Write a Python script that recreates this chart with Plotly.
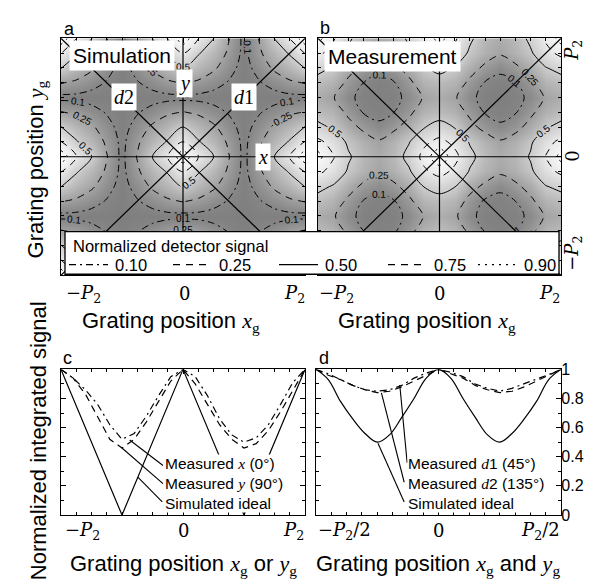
import plotly.graph_objects as go

W, H = 592, 583


def xp(p):
    return p / W


def yp(p):
    return 1 - p / H


# ---------------- data (positions in units of P2) ----------------
grid_pos = [-1.0, -0.875, -0.75, -0.625, -0.5, -0.375, -0.25, -0.125, 0.0,
            0.125, 0.25, 0.375, 0.5, 0.625, 0.75, 0.875, 1.0]

sim_signal = [
    [1.00, 0.76, 0.51, 0.26, 0.06, 0.26, 0.51, 0.76, 1.00, 0.76, 0.51, 0.26, 0.06, 0.26, 0.51, 0.76, 1.00],
    [0.76, 0.52, 0.38, 0.22, 0.06, 0.22, 0.38, 0.52, 0.76, 0.52, 0.38, 0.22, 0.06, 0.22, 0.38, 0.52, 0.76],
    [0.51, 0.38, 0.28, 0.15, 0.05, 0.15, 0.28, 0.38, 0.51, 0.38, 0.28, 0.15, 0.05, 0.15, 0.28, 0.38, 0.51],
    [0.26, 0.22, 0.15, 0.09, 0.05, 0.09, 0.15, 0.22, 0.26, 0.22, 0.15, 0.09, 0.05, 0.09, 0.15, 0.22, 0.26],
    [0.06, 0.06, 0.05, 0.05, 0.04, 0.05, 0.05, 0.06, 0.06, 0.06, 0.05, 0.05, 0.04, 0.05, 0.05, 0.06, 0.06],
    [0.26, 0.22, 0.15, 0.09, 0.05, 0.09, 0.15, 0.22, 0.26, 0.22, 0.15, 0.09, 0.05, 0.09, 0.15, 0.22, 0.26],
    [0.51, 0.38, 0.28, 0.15, 0.05, 0.15, 0.28, 0.38, 0.51, 0.38, 0.28, 0.15, 0.05, 0.15, 0.28, 0.38, 0.51],
    [0.76, 0.52, 0.38, 0.22, 0.06, 0.22, 0.38, 0.52, 0.76, 0.52, 0.38, 0.22, 0.06, 0.22, 0.38, 0.52, 0.76],
    [1.00, 0.76, 0.51, 0.26, 0.06, 0.26, 0.51, 0.76, 1.00, 0.76, 0.51, 0.26, 0.06, 0.26, 0.51, 0.76, 1.00],
    [0.76, 0.52, 0.38, 0.22, 0.06, 0.22, 0.38, 0.52, 0.76, 0.52, 0.38, 0.22, 0.06, 0.22, 0.38, 0.52, 0.76],
    [0.51, 0.38, 0.28, 0.15, 0.05, 0.15, 0.28, 0.38, 0.51, 0.38, 0.28, 0.15, 0.05, 0.15, 0.28, 0.38, 0.51],
    [0.26, 0.22, 0.15, 0.09, 0.05, 0.09, 0.15, 0.22, 0.26, 0.22, 0.15, 0.09, 0.05, 0.09, 0.15, 0.22, 0.26],
    [0.06, 0.06, 0.05, 0.05, 0.04, 0.05, 0.05, 0.06, 0.06, 0.06, 0.05, 0.05, 0.04, 0.05, 0.05, 0.06, 0.06],
    [0.26, 0.22, 0.15, 0.09, 0.05, 0.09, 0.15, 0.22, 0.26, 0.22, 0.15, 0.09, 0.05, 0.09, 0.15, 0.22, 0.26],
    [0.51, 0.38, 0.28, 0.15, 0.05, 0.15, 0.28, 0.38, 0.51, 0.38, 0.28, 0.15, 0.05, 0.15, 0.28, 0.38, 0.51],
    [0.76, 0.52, 0.38, 0.22, 0.06, 0.22, 0.38, 0.52, 0.76, 0.52, 0.38, 0.22, 0.06, 0.22, 0.38, 0.52, 0.76],
    [1.00, 0.76, 0.51, 0.26, 0.06, 0.26, 0.51, 0.76, 1.00, 0.76, 0.51, 0.26, 0.06, 0.26, 0.51, 0.76, 1.00],
]

meas_signal = [
    [0.93, 0.77, 0.53, 0.37, 0.31, 0.39, 0.55, 0.79, 0.96, 0.80, 0.55, 0.38, 0.31, 0.37, 0.53, 0.77, 0.94],
    [0.79, 0.65, 0.47, 0.34, 0.27, 0.35, 0.47, 0.67, 0.81, 0.68, 0.47, 0.35, 0.26, 0.33, 0.45, 0.65, 0.79],
    [0.56, 0.48, 0.33, 0.21, 0.13, 0.19, 0.31, 0.47, 0.57, 0.49, 0.33, 0.21, 0.14, 0.21, 0.33, 0.48, 0.55],
    [0.40, 0.35, 0.21, 0.10, 0.06, 0.08, 0.19, 0.35, 0.41, 0.36, 0.21, 0.09, 0.06, 0.09, 0.20, 0.36, 0.40],
    [0.32, 0.27, 0.14, 0.06, 0.05, 0.06, 0.13, 0.26, 0.33, 0.28, 0.13, 0.06, 0.05, 0.06, 0.13, 0.27, 0.32],
    [0.41, 0.36, 0.21, 0.09, 0.06, 0.09, 0.21, 0.37, 0.41, 0.36, 0.19, 0.08, 0.06, 0.10, 0.21, 0.36, 0.40],
    [0.57, 0.48, 0.33, 0.21, 0.14, 0.21, 0.33, 0.51, 0.59, 0.51, 0.32, 0.21, 0.13, 0.21, 0.32, 0.49, 0.56],
    [0.80, 0.67, 0.47, 0.35, 0.27, 0.35, 0.47, 0.71, 0.83, 0.70, 0.48, 0.36, 0.28, 0.34, 0.46, 0.66, 0.80],
    [0.95, 0.77, 0.53, 0.38, 0.31, 0.39, 0.57, 0.83, 1.00, 0.82, 0.56, 0.40, 0.32, 0.38, 0.52, 0.76, 0.95],
    [0.81, 0.66, 0.46, 0.34, 0.27, 0.36, 0.49, 0.70, 0.82, 0.69, 0.48, 0.36, 0.27, 0.34, 0.47, 0.67, 0.81],
    [0.56, 0.47, 0.32, 0.21, 0.13, 0.21, 0.33, 0.49, 0.58, 0.49, 0.31, 0.19, 0.12, 0.19, 0.32, 0.48, 0.57],
    [0.40, 0.36, 0.21, 0.09, 0.06, 0.10, 0.21, 0.36, 0.40, 0.35, 0.21, 0.09, 0.06, 0.09, 0.21, 0.35, 0.40],
    [0.32, 0.26, 0.13, 0.06, 0.05, 0.06, 0.14, 0.27, 0.32, 0.27, 0.13, 0.06, 0.04, 0.06, 0.13, 0.27, 0.33],
    [0.41, 0.36, 0.21, 0.10, 0.06, 0.09, 0.21, 0.36, 0.40, 0.36, 0.21, 0.09, 0.06, 0.09, 0.21, 0.37, 0.41],
    [0.57, 0.48, 0.32, 0.21, 0.13, 0.21, 0.32, 0.48, 0.57, 0.48, 0.33, 0.21, 0.13, 0.21, 0.33, 0.49, 0.57],
    [0.80, 0.66, 0.46, 0.35, 0.27, 0.34, 0.47, 0.67, 0.81, 0.67, 0.46, 0.34, 0.27, 0.35, 0.47, 0.67, 0.81],
    [0.95, 0.78, 0.54, 0.38, 0.31, 0.38, 0.54, 0.79, 0.96, 0.79, 0.54, 0.38, 0.32, 0.39, 0.55, 0.79, 0.96],
]

contour_levels = [0.10, 0.25, 0.50, 0.75, 0.90]
level_labels = ["0.10", "0.25", "0.50", "0.75", "0.90"]

scan_c = [-1.0, -0.9, -0.8, -0.7, -0.6, -0.5, -0.4, -0.3, -0.2, -0.1, 0.0,
          0.1, 0.2, 0.3, 0.4, 0.5, 0.6, 0.7, 0.8, 0.9, 1.0]
meas_x_c = [1.00, 0.94, 0.86, 0.76, 0.62, 0.52, 0.56, 0.68, 0.82, 0.95, 1.00,
            0.95, 0.82, 0.66, 0.55, 0.50, 0.53, 0.62, 0.76, 0.91, 1.00]
meas_y_c = [1.00, 0.94, 0.83, 0.68, 0.52, 0.46, 0.52, 0.64, 0.78, 0.92, 1.00,
            0.90, 0.76, 0.62, 0.52, 0.46, 0.49, 0.58, 0.71, 0.86, 1.00]
ideal_pos_c = [-1.0, -0.5, 0.0, 0.5, 1.0]
ideal_c = [1.0, 0.0, 1.0, 0.0, 1.0]

scan_d = [-0.5, -0.45, -0.4, -0.35, -0.3, -0.25, -0.2, -0.15, -0.1, -0.05, 0.0,
          0.05, 0.1, 0.15, 0.2, 0.25, 0.3, 0.35, 0.4, 0.45, 0.5]
meas_d1 = [1.00, 0.97, 0.93, 0.89, 0.86, 0.85, 0.86, 0.89, 0.94, 0.975, 1.00,
           0.98, 0.95, 0.90, 0.87, 0.85, 0.87, 0.90, 0.93, 0.965, 1.00]
meas_d2 = [1.00, 0.96, 0.93, 0.89, 0.86, 0.84, 0.85, 0.88, 0.92, 0.96, 1.00,
           0.97, 0.94, 0.89, 0.86, 0.84, 0.85, 0.88, 0.92, 0.96, 1.00]
ideal_d = [1.00, 0.93, 0.78, 0.66, 0.56, 0.50, 0.55, 0.67, 0.80, 0.94, 1.00,
           0.94, 0.80, 0.67, 0.55, 0.50, 0.56, 0.66, 0.78, 0.93, 1.00]

d_tick_vals = [0, 0.2, 0.4, 0.6, 0.8, 1.0]
d_tick_text = ["0", "0.2", "0.4", "0.6", "0.8", "1"]

# ---------------- styles ----------------
SANS = "Liberation Sans, Arial, Helvetica, sans-serif"
SERIF = "DejaVu Serif, serif"
DASHES = ["7px,4px,2px,4px", "7px,6px", "solid", "7px,6px", "2px,5px"]
GRAY = [[0.0, "rgb(122,122,122)"], [0.1, "rgb(134,134,134)"], [0.25, "rgb(160,160,160)"],
        [0.5, "rgb(204,204,204)"], [0.75, "rgb(234,234,234)"], [1.0, "rgb(255,255,255)"]]


def m(s):
    return f"<span style='font-family:Liberation Serif'><i>{s}</i></span>"


P2 = "<i>P</i><sub>2</sub>"

fig = go.Figure()

for xa, ya, z in [("x", "y", sim_signal), ("x2", "y2", meas_signal)]:
    fig.add_trace(go.Heatmap(x=grid_pos, y=grid_pos, z=z, zmin=0, zmax=1, zsmooth="best",
                             colorscale=GRAY, showscale=False, xaxis=xa, yaxis=ya,
                             hoverinfo="skip"))
    for lv, dash in zip(contour_levels, DASHES):
        fig.add_trace(go.Contour(
            x=grid_pos, y=grid_pos, z=z, autocontour=False,
            contours=dict(start=lv, end=lv, size=1, coloring="none",
                          showlabels=lv <= 0.5,
                          labelfont=dict(size=10, family=SANS, color="black"),
                          labelformat="~g"),
            line=dict(color="black", width=1, dash=dash, smoothing=0.9),
            showscale=False, showlegend=False, xaxis=xa, yaxis=ya, hoverinfo="skip"))


def curve(x, y, dash, xa, ya, shape="linear"):
    fig.add_trace(go.Scatter(x=x, y=y, mode="lines",
                             line=dict(color="black", width=1.2, dash=dash, shape=shape),
                             xaxis=xa, yaxis=ya, showlegend=False, hoverinfo="skip"))


curve(ideal_pos_c, ideal_c, "solid", "x3", "y3")
curve(scan_c, meas_x_c, "7px,4px,2px,4px", "x3", "y3")
curve(scan_c, meas_y_c, "7px,5px", "x3", "y3")
curve(scan_d, ideal_d, "solid", "x4", "y4", "spline")
curve(scan_d, meas_d1, "7px,4px,2px,4px", "x4", "y4")
curve(scan_d, meas_d2, "7px,5px", "x4", "y4")


def frame(**kw):
    base = dict(showline=True, linecolor="black", linewidth=1.2, mirror="allticks",
                ticks="inside", ticklen=5, tickcolor="black", tickwidth=1,
                showgrid=False, zeroline=False, fixedrange=True, showticklabels=False)
    base.update(kw)
    return base


def minor(d):
    return dict(ticks="inside", ticklen=3, dtick=d, tick0=0, tickcolor="black", tickwidth=1)


fig.update_layout(
    width=W, height=H, autosize=False,
    margin=dict(l=0, r=0, t=0, b=0),
    paper_bgcolor="white", plot_bgcolor="white",
    showlegend=False,
    xaxis=frame(domain=[xp(53), xp(297)], range=[-1, 1], tickvals=[-1, 0, 1],
                minor=minor(0.125), anchor="y"),
    yaxis=frame(domain=[yp(267), yp(23)], range=[-1, 1], tickvals=[-1, 0, 1],
                minor=minor(0.125), anchor="x"),
    xaxis2=frame(domain=[xp(310), xp(553)], range=[-1, 1], tickvals=[-1, 0, 1],
                 minor=minor(0.125), anchor="y2"),
    yaxis2=frame(domain=[yp(267), yp(23)], range=[-1, 1], tickvals=[-1, 0, 1],
                 minor=minor(0.125), anchor="x2", side="right"),
    xaxis3=frame(domain=[xp(53), xp(297)], range=[-1, 1], tickvals=[-1, 0, 1],
                 minor=minor(0.125), anchor="y3"),
    yaxis3=frame(domain=[yp(514), yp(364)], range=[0, 1], dtick=0.2, tick0=0,
                 minor=minor(0.1), anchor="x3"),
    xaxis4=frame(domain=[xp(308), xp(553)], range=[-0.5, 0.5], tickvals=[-0.5, 0, 0.5],
                 minor=minor(0.0625), anchor="y4"),
    yaxis4=frame(domain=[yp(514), yp(364)], range=[0, 1], tickvals=d_tick_vals,
                 ticktext=d_tick_text, showticklabels=True, ticklabelstandoff=-4,
                 tickfont=dict(size=16, family=SANS, color="black"),
                 minor=minor(0.1), anchor="x4", side="right"),
)

# axis / diagonal guide lines in maps a and b
for xr, yr in [("x", "y"), ("x2", "y2")]:
    for (x0, y0, x1, y1) in [(-1, 0, 1, 0), (0, -1, 0, 1), (-1, -1, 1, 1), (-1, 1, 1, -1)]:
        fig.add_shape(type="line", xref=xr, yref=yr, x0=x0, y0=y0, x1=x1, y1=y1,
                      line=dict(color="black", width=1.2), layer="above")

# leader lines for panels c and d
for (x0, y0, x1, y1) in [(-0.437, 0.515, -0.164, 0.34), (-0.50, 0.46, -0.164, 0.215),
                         (-0.37, 0.26, -0.17, 0.09)]:
    fig.add_shape(type="line", xref="x3", yref="y3", x0=x0, y0=y0, x1=x1, y1=y1,
                  line=dict(color="black", width=1.1), layer="above")
for (x0, y0, x1, y1) in [(-0.158, 0.893, -0.128, 0.36), (-0.233, 0.838, -0.14, 0.225),
                         (-0.247, 0.493, -0.14, 0.09)]:
    fig.add_shape(type="line", xref="x4", yref="y4", x0=x0, y0=y0, x1=x1, y1=y1,
                  line=dict(color="black", width=1.1), layer="above")

# legend box
fig.add_shape(type="rect", xref="paper", yref="paper", x0=xp(57), x1=xp(551),
              y0=yp(266), y1=yp(222), fillcolor="white",
              line=dict(color="black", width=1.3), layer="above")
handles = [(61, 100, 105), (165, 204, 209), (271, 310, 315), (380, 419, 424), (470, 510, 514)]
for (h0, h1, tx), dash, lab in zip(handles, DASHES, level_labels):
    fig.add_shape(type="line", xref="paper", yref="paper", x0=xp(h0), x1=xp(h1),
                  y0=yp(256), y1=yp(256), line=dict(color="black", width=1.2, dash=dash),
                  layer="above")
    fig.add_annotation(text=lab, x=xp(tx), y=yp(256), xref="paper", yref="paper",
                       showarrow=False, xanchor="left", yanchor="middle",
                       font=dict(size=16.5, family=SANS, color="black"))


def ann(text, x, y, size, family=SANS, xanchor="center", yanchor="middle", angle=0,
        bg="rgba(0,0,0,0)", pad=1, align="center"):
    fig.add_annotation(text=text, x=xp(x), y=yp(y), xref="paper", yref="paper",
                       showarrow=False, xanchor=xanchor, yanchor=yanchor, textangle=angle,
                       font=dict(size=size, family=family, color="black"),
                       bgcolor=bg, borderpad=pad, align=align)


ann("Normalized detector signal", 63, 237, 16.5, xanchor="left")

# panel labels
ann("a", 61, 13, 18)
ann("b", 317, 12, 18)
ann("c", 59, 352, 18)
ann("d", 316, 352, 18)

# boxed labels inside maps
ann("Simulation", 61, 41, 21, xanchor="left", bg="white", pad=3)
ann("Measurement", 316, 42, 21, xanchor="left", bg="white", pad=3)
ann("<i>y</i>", 176, 70, 20, family="Liberation Serif", bg="white", pad=2)
ann("<i>x</i>", 255, 145, 20, family="Liberation Serif", bg="white", pad=2)
ann("<i>d</i>1", 236, 83, 20, family="Liberation Serif", bg="white", pad=2)
ann("<i>d</i>2", 116, 83, 20, family="Liberation Serif", bg="white", pad=2)

# tick labels of maps
ann("−" + P2, 56, 286, 18, family=SERIF, xanchor="left")
ann("0", 176, 286, 18, family=SERIF)
ann(P2, 299, 286, 18, family=SERIF, xanchor="right")
ann("−" + P2, 309, 286, 18, family=SERIF, xanchor="left")
ann("0", 431, 286, 18, family=SERIF)
ann(P2, 554, 286, 18, family=SERIF, xanchor="right")
ann(P2, 565, 23, 18, family=SERIF, yanchor="top", angle=-90)
ann("0", 565, 145, 18, family=SERIF, angle=-90)
ann("−" + P2, 565, 265, 18, family=SERIF, yanchor="bottom", angle=-90)

# tick labels of c and d
ann("−" + P2, 55, 530, 18, family=SERIF, xanchor="left")
ann("0", 175, 530, 18, family=SERIF)
ann(P2, 298, 530, 18, family=SERIF, xanchor="right")
ann("−" + P2 + "/2", 308, 530, 18, family=SERIF, xanchor="left")
ann("0", 430, 530, 18, family=SERIF)
ann(P2 + "/2", 554, 530, 18, family=SERIF, xanchor="right")

# curve labels
ann("Measured " + m("x") + " (0°)<br>Measured " + m("y") + " (90°)<br>Simulated ideal",
    156, 482, 15.5, xanchor="left", bg="white", align="left", pad=0)
ann("Measured " + m("d") + "1 (45°)<br>Measured " + m("d") + "2 (135°)<br>Simulated ideal",
    399, 482, 15.5, xanchor="left", bg="white", align="left", pad=0)

# axis titles
xg = "<span style='font-family:Liberation Serif'><i>x</i><sub>g</sub></span>"
ygs = "<span style='font-family:Liberation Serif'><i>y</i><sub>g</sub></span>"
ann("Grating position " + xg, 163, 315, 22)
ann("Grating position " + xg, 419, 315, 22)
ann("Grating position " + xg + " or " + ygs, 175, 566, 22)
ann("Grating position " + xg + " and " + ygs, 430, 566, 22)
ann("Grating position " + ygs, 29, 158, 22, angle=-90)
ann("Normalized integrated signal", 30, 438, 22, angle=-90)

fig.write_html("out.html")
